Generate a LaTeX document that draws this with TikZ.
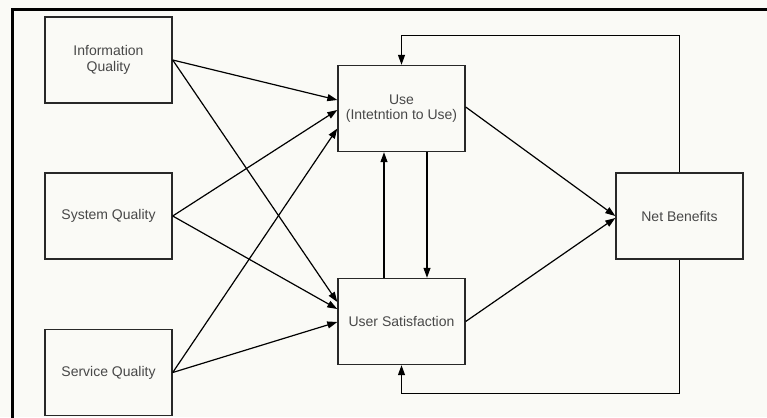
\documentclass[tikz,border=0pt]{standalone}
\usepackage{fontspec}
\setmainfont{Liberation Sans}
\usetikzlibrary{arrows.meta}
\definecolor{paper}{RGB}{250,250,246}
\definecolor{ink}{RGB}{40,40,40}
\tikzset{
  box/.style={draw=ink, line width=1.4pt, fill=paper, minimum width=127pt,
    minimum height=86pt, inner sep=2pt, align=center, text=ink!85,
    font=\fontsize{14}{15.5}\selectfont},
  arr/.style={draw=black, line width=1.2pt, -{Triangle[length=10pt,width=7pt]}},
}
\begin{document}
\begin{tikzpicture}[x=1pt,y=-1pt]
    \fill[paper] (0,0) rectangle (767,417);
    \useasboundingbox (0,0) rectangle (767,417);
    \draw[line width=3pt] (12,418) -- (12,10) -- (768,10);
    % the six boxes
    \node [box] (infoq) at (108.5,60) {Information\\Quality};
    \node [box] (sysq) at (108.5,216) {System Quality};
    \node [box] (servq) at (108.5,372.5) {Service Quality};
    \node [box] (use) at (401.5,108.5) {Use\\(Intetntion to Use)};
    \node [box] (usat) at (401.5,321.5) {User Satisfaction};
    \node [box] (netben) at (679.5,216) {Net Benefits};
    % quality to use and satisfaction
    \draw[arr] (infoq.east) -- ([yshift=8.5pt]use.west);
    \draw[arr] (infoq.east) -- ([yshift=19.5pt]usat.west);
    \draw[arr] (sysq.east) -- ([yshift=-1.5pt]use.west);
    \draw[arr] (sysq.east) -- ([yshift=12.5pt]usat.west);
    \draw[arr] (servq.east) -- ([yshift=-20pt]use.west);
    \draw[arr] (servq.east) -- ([yshift=-0.5pt]usat.west);
    % between use and satisfaction
    \draw[arr] ([xshift=-17.5pt]usat.north) -- ([xshift=-17.5pt]use.south);
    \draw[arr] ([xshift=25.5pt]use.south) -- ([xshift=25.5pt]usat.north);
    % to net benefits
    \draw[arr] ([yshift=1.5pt]use.east) -- (netben.west);
    \draw[arr] (usat.east) -- ([yshift=-2pt]netben.west);
    % feedback loops
    \draw[arr] (netben.north) -- ++(0,-137) -| (use.north);
    \draw[arr] (netben.south) -- ++(0,134) -| (usat.south);
\end{tikzpicture}
\end{document}
